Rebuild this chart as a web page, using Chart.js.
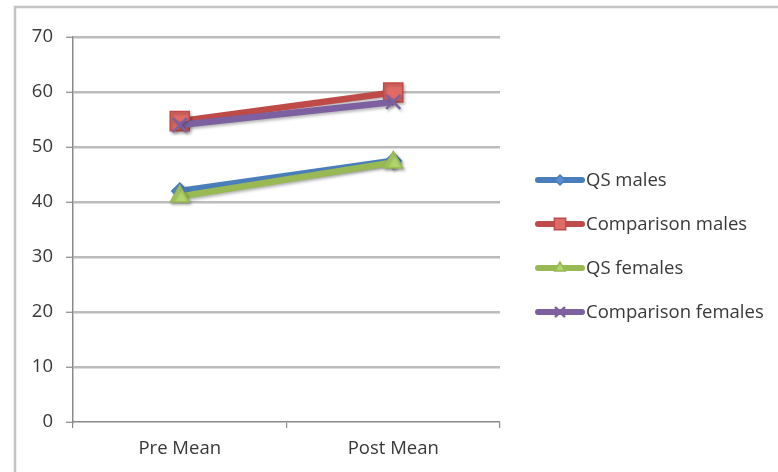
<!DOCTYPE html>
<html>
<head>
<meta charset="utf-8">
<script src="https://cdn.jsdelivr.net/npm/chart.js@4.4.1/dist/chart.umd.min.js"></script>
<style>
  html, body { margin: 0; padding: 0; background: #ffffff; }
  #wrap { width: 778px; height: 472px; }
</style>
</head>
<body>
<div id="wrap"><canvas id="c" width="778" height="472"></canvas></div>
<script>
// Group means before and after the programme
const categories = ['Pre Mean', 'Post Mean'];
const qsMales = [42, 47.5];
const comparisonMales = [54.7, 59.9];
const qsFemales = [41, 47.2];
const comparisonFemales = [54, 58.2];
const yTicks = [0, 10, 20, 30, 40, 50, 60, 70];

const FONT = '"Open Sans", Lato, sans-serif';
const TEXT = '#383838';
const FONT_SIZE = 18.5;

// Outer frame of the chart object
const framePlugin = {
  id: 'frame',
  beforeDraw(chart) {
    const ctx = chart.ctx;
    ctx.save();
    ctx.fillStyle = '#ffffff';
    ctx.fillRect(0, 0, chart.width, chart.height);
    ctx.strokeStyle = '#c4c4c4';
    ctx.lineWidth = 2.5;
    ctx.strokeRect(15, 7, chart.width + 20, chart.height + 20);
    ctx.restore();
  }
};

// Soft drop shadow under each series
const shadowPlugin = {
  id: 'softShadow',
  beforeDatasetDraw(chart) {
    const ctx = chart.ctx;
    ctx.save();
    ctx.shadowColor = 'rgba(0,0,0,0.28)';
    ctx.shadowBlur = 3;
    ctx.shadowOffsetX = 1.5;
    ctx.shadowOffsetY = 2;
  },
  afterDatasetDraw(chart) {
    chart.ctx.restore();
  }
};

// Legend to the right: line sample with marker, then label
const sideLegend = {
  id: 'sideLegend',
  afterDraw(chart) {
    const ctx = chart.ctx;
    const x0 = 535, x1 = 585, yStart = 180, step = 44;
    const sets = chart.data.datasets.slice().sort((a, b) => a.seq - b.seq);
    sets.forEach((ds, i) => {
      const y = yStart + i * step;
      ctx.save();
      ctx.strokeStyle = ds.borderColor;
      ctx.lineWidth = 6;
      ctx.lineCap = 'round';
      ctx.beginPath();
      ctx.moveTo(x0 + 3, y);
      ctx.lineTo(x1 - 3, y);
      ctx.stroke();
      ctx.fillStyle = ds.pointBackgroundColor;
      ctx.strokeStyle = ds.pointBorderColor;
      ctx.lineWidth = ds.pointBorderWidth;
      Chart.helpers.drawPoint(ctx, {
        pointStyle: ds.pointStyle,
        radius: ds.legendRadius,
        rotation: 0,
        borderWidth: ds.pointBorderWidth
      }, (x0 + x1) / 2, y);
      ctx.fillStyle = TEXT;
      ctx.font = FONT_SIZE + 'px ' + FONT;
      ctx.textBaseline = 'middle';
      ctx.textAlign = 'left';
      ctx.fillText(ds.label, x1 + 1, y + 1);
      ctx.restore();
    });
  }
};

function series(label, data, color, fill, style, radius, legendRadius, seq, order, bw) {
  return {
    label, data, seq, order,
    borderColor: color,
    backgroundColor: fill,
    borderWidth: 6.5,
    pointStyle: style,
    pointRadius: radius,
    pointHoverRadius: radius,
    pointBackgroundColor: fill,
    pointBorderColor: color,
    pointBorderWidth: bw,
    legendRadius,
    tension: 0,
    fill: false
  };
}

const datasets = [
  series('QS males', qsMales, '#4a7ebb', '#5b8fd0', 'rectRot', 8, 5, 0, 4, 1.5),
  series('Comparison males', comparisonMales, '#be4b48', '#e06a66', 'rect', 13.5, 8, 1, 3, 1.5),
  series('QS females', qsFemales, '#98b954', '#b2d56a', 'triangle', 11, 6, 2, 2, 1.5),
  series('Comparison females', comparisonFemales, '#7d60a0', '#7d60a0', 'crossRot', 10, 6, 3, 1, 2.5)
];

new Chart(document.getElementById('c'), {
  type: 'line',
  data: { labels: categories, datasets },
  plugins: [framePlugin, shadowPlugin, sideLegend],
  options: {
    responsive: false,
    animation: false,
    events: [],
    layout: { padding: { left: 0, top: 37, right: 278, bottom: 0 } },
    plugins: { legend: { display: false }, tooltip: { enabled: false }, title: { display: false } },
    scales: {
      x: {
        type: 'category',
        offset: true,
        grid: {
          offset: true,
          drawOnChartArea: false,
          drawTicks: true,
          tickLength: 6,
          color: '#8a8a8a',
          lineWidth: 1.2
        },
        border: { display: true, color: '#8a8a8a', width: 1.5 },
        ticks: {
          color: TEXT,
          font: { family: FONT, size: FONT_SIZE },
          padding: 10,
          maxRotation: 0
        },
        afterFit(scale) { scale.height = 50; }
      },
      y: {
        min: 0,
        max: 70,
        afterBuildTicks(scale) { scale.ticks = yTicks.map(v => ({ value: v })); },
        grid: {
          drawTicks: true,
          tickLength: 7,
          color: (c) => c.tick && c.tick.value === 0 ? 'rgba(0,0,0,0)' : '#bcbcbc',
          tickColor: '#8a8a8a',
          lineWidth: 2.5,
          tickWidth: 1.2
        },
        border: { display: true, color: '#8a8a8a', width: 1.5 },
        ticks: {
          color: TEXT,
          font: { family: FONT, size: FONT_SIZE },
          padding: 13
        },
        afterFit(scale) { scale.width = 73; }
      }
    }
  }
});
</script>
</body>
</html>
